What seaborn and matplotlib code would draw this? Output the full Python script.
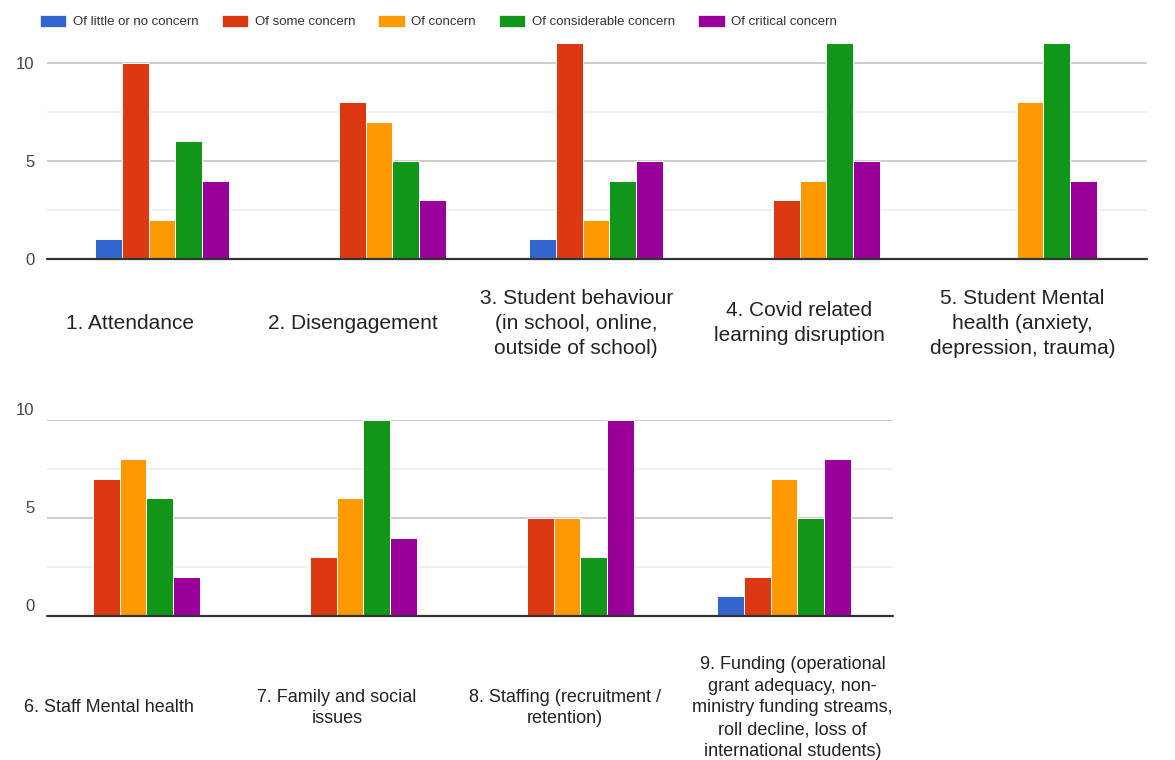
import matplotlib
matplotlib.use("Agg")
import matplotlib.pyplot as plt
import matplotlib.transforms as mtransforms
from matplotlib.patches import Patch
import seaborn as sns
import pandas as pd

# ---------------- data ----------------
levels = ["Of little or no concern", "Of some concern", "Of concern",
          "Of considerable concern", "Of critical concern"]
colors = ["#3366cc", "#dc3912", "#ff9900", "#109618", "#990099"]

top_categories = [
    "1. Attendance",
    "2. Disengagement",
    "3. Student behaviour\n(in school, online,\noutside of school)",
    "4. Covid related\nlearning disruption",
    "5. Student Mental\nhealth (anxiety,\ndepression, trauma)",
]
top_little = [1, 0, 1, 0, 0]
top_some = [10, 8, 11, 3, 0]
top_concern = [2, 7, 2, 4, 8]
top_considerable = [6, 5, 4, 11, 11]
top_critical = [4, 3, 5, 5, 4]

bottom_categories = [
    "6. Staff Mental health",
    "7. Family and social\nissues",
    "8. Staffing (recruitment /\nretention)",
    "9. Funding (operational\ngrant adequacy, non-\nministry funding streams,\nroll decline, loss of\ninternational students)",
]
bottom_little = [0, 0, 0, 1]
bottom_some = [7, 3, 5, 2]
bottom_concern = [8, 6, 5, 7]
bottom_considerable = [6, 10, 3, 5]
bottom_critical = [2, 4, 10, 8]

y_ticks = [0, 5, 10]


def long_frame(cats, series):
    rows = []
    for lvl, vals in zip(levels, series):
        for c, v in zip(cats, vals):
            rows.append({"category": c, "level": lvl, "count": v})
    return pd.DataFrame(rows)


df_top = long_frame(top_categories, [top_little, top_some, top_concern,
                                     top_considerable, top_critical])
df_bot = long_frame(bottom_categories, [bottom_little, bottom_some, bottom_concern,
                                        bottom_considerable, bottom_critical])

# ---------------- style ----------------
sns.set_theme(style="white")
plt.rcParams["font.family"] = ["Liberation Sans", "DejaVu Sans"]

W, H = 1175, 760
fig = plt.figure(figsize=(W / 100, H / 100), dpi=100)
fig.patch.set_facecolor("white")

palette = dict(zip(levels, colors))
slot_px = 217.0


def make_axes(x0, x1, y_top, y_bottom, center0_px):
    ax = fig.add_axes([x0 / W, 1 - y_bottom / H, (x1 - x0) / W, (y_bottom - y_top) / H])
    xlim = ((x0 - center0_px) / slot_px, (x1 - center0_px) / slot_px)
    return ax, xlim


def style_axes(ax, xlim, df, cats, ymax_val, label_y_px, label_start, label_step,
               tick_shift_px, label_size, label_ls):
    sns.barplot(data=df, x="category", y="count", hue="level", order=cats,
                hue_order=levels, palette=palette, width=0.62, ax=ax,
                saturation=1, edgecolor="white", linewidth=0.7, legend=False)
    ax.set_ylim(0, ymax_val)
    ax.set_xlim(xlim)
    for s in ax.spines.values():
        s.set_visible(False)
    ax.set_xlabel("")
    ax.set_ylabel("")
    ax.set_xticks([])
    ax.set_yticks(y_ticks)
    ax.set_yticks([2.5, 7.5], minor=True)
    ax.yaxis.grid(True, which="major", color="#c8c8c8", linewidth=1.3, zorder=0)
    ax.yaxis.grid(True, which="minor", color="#ececec", linewidth=1.2, zorder=0)
    ax.set_axisbelow(True)
    ax.tick_params(axis="y", which="both", length=0, pad=9, labelsize=12,
                   labelcolor="#444444")
    for lab in ax.get_yticklabels():
        lab.set_transform(lab.get_transform() +
                          mtransforms.ScaledTranslation(0, tick_shift_px / 100,
                                                        fig.dpi_scale_trans))
    ax.axhline(0, color="#333333", linewidth=1.6, zorder=6, clip_on=False)
    trans = mtransforms.blended_transform_factory(ax.transData, fig.transFigure)
    for i, c in enumerate(cats):
        ax.text(label_start + label_step * i, 1 - label_y_px / H, c,
                transform=trans, ha="center", va="center", fontsize=label_size,
                color="#222222", linespacing=label_ls, clip_on=False)


ax_top, xl_top = make_axes(47, 1147, 259 - 11 * 19.6, 259, 162)
style_axes(ax_top, xl_top, df_top, top_categories, 11, 323, -0.147, 1.028, 0,
           15, 1.4)

ax_bot, xl_bot = make_axes(47, 893, 420, 616, 133)
style_axes(ax_bot, xl_bot, df_bot, bottom_categories, 10, 708, -0.11, 1.05, 11,
           13, 1.38)

handles = [Patch(facecolor=c, edgecolor="white", linewidth=0.5) for c in colors]
fig.legend(handles, levels, loc="upper left", bbox_to_anchor=(40 / W, 1 - 15 / H),
           ncol=5, frameon=False, fontsize=9.5, handlelength=2.0, handleheight=1.0,
           handletextpad=0.5, columnspacing=1.75, labelcolor="#333333",
           borderaxespad=0, borderpad=0)

fig.savefig("out.png", dpi=100, facecolor="white")
